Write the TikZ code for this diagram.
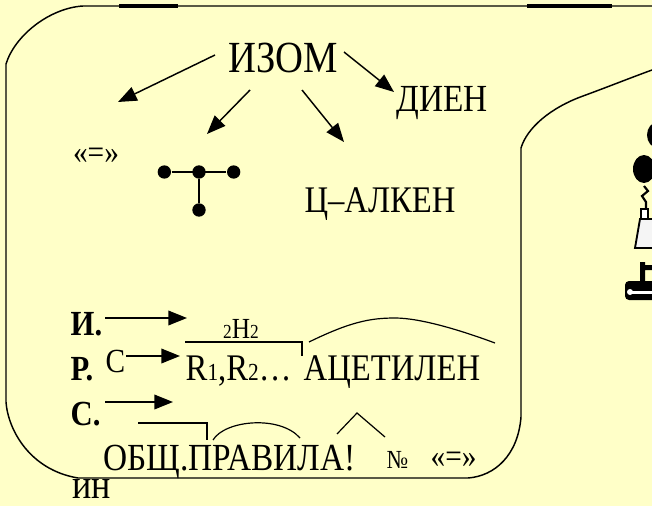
\documentclass[tikz,border=0pt]{standalone}
\usepackage{fontspec}
\setmainfont{Liberation Serif}
\usetikzlibrary{positioning,arrows.meta}

\definecolor{slide}{RGB}{255,255,200}
\newcommand{\fsz}[1]{\fontsize{#1}{#1}\selectfont}

\begin{document}
\begin{tikzpicture}[x=0.75pt,y=-0.75pt,line width=1.1pt,
    lbl/.style={inner sep=0pt,anchor=base west,yscale=1.15},
    dot/.style={circle,fill,inner sep=0pt,minimum size=10pt},
    arr/.style={-{Triangle[length=14pt,width=11pt]}},
    node distance=28.5pt and 26pt,on grid]
    \clip (0,0) rectangle (652,506);
    \fill[slide] (0,0) rectangle (652,506);

    % frame
    \draw (652,6) -- (83,6) .. controls (50,8) and (15,35) .. (6,64) -- (6,402)
        .. controls (8,430) and (30,470) .. (78,478) -- (468,478)
        .. controls (495,476) and (518,455) .. (521,417) -- (521,148)
        .. controls (527,128) and (550,108) .. (583,96)
        .. controls (605,88) and (630,78) .. (652,70);
    \draw[line width=2.4pt] (119,6) -- (178,6) (527,6) -- (612,6);

    % top part
    \node (izom) [lbl,anchor=base,font=\fsz{29}] at (283,73) {ИЗОМ};
    \node (dien) [lbl,anchor=base,font=\fsz{25}] at (442,112) {ДИЕН};
    \node (dbl) [lbl,anchor=base,font=\fsz{22}] at (96,163) {«=»};
    \node (calk) [lbl,anchor=base,font=\fsz{24.5}] at (380,212) {Ц–АЛКЕН};
    \coordinate (ta) at (118,102);
    \coordinate (tb) at (207,134);
    \coordinate (tc) at (344,142);
    \coordinate (td) at (394,92);
    \path[arr]
    ([shift={(-68,-18)}]izom.base) edge (ta)
    ([shift={(-33,17)}]izom.base) edge (tb)
    ([shift={(19,17)}]izom.base) edge (tc)
    ([shift={(61,-21)}]izom.base) edge (td);

    \node (c) [dot] at (199,172) {};
    \node (l) [dot,left=of c] {};
    \node (r) [dot,right=of c] {};
    \node (b) [dot,below=of c] {};
    \draw (l) -- (r) (c) -- (b);

    % lower part
    \node (i) [lbl,font=\fsz{23}\bfseries] at (70,335) {И.};
    \node (p) [lbl,font=\fsz{23}\bfseries] at (70,380) {Р.};
    \node (s) [lbl,font=\fsz{23}\bfseries] at (70,425) {С.};
    \node (cc) [lbl,font=\fsz{22}] at (105,372) {С};
    \coordinate (ti) at (187,318);
    \coordinate (tp) at (180,356);
    \coordinate (ts) at (173,402);
    \path[arr]
    ([shift={(35,-17)}]i.base west) edge (ti)
    ([shift={(0,-16)}]cc.base east) edge (tp)
    ([shift={(35,-23)}]s.base west) edge (ts);

    \node (h2) [lbl,anchor=base,font=\fsz{19}] at (241,338) {{\fsz{13}2}H{\fsz{13}2}};
    \node (rr) [lbl,font=\fsz{24.5}] at (185,380) {R{\fsz{16}1},R{\fsz{16}2}…};
    \node (acet) [lbl,font=\fsz{24.5}] at (303,380) {АЦЕТИЛЕН};
    \draw[line width=0.9pt] (185,342) -- (302,342) -- (302,356);
    \draw[line width=0.9pt] (309,342) .. controls (350,322) and (370,318) .. (395,318)
        .. controls (420,318) and (460,330) .. (495,343);

    \node (obsh) [lbl,font=\fsz{25}] at (103,470) {ОБЩ.ПРАВИЛА!};
    \node (no) [lbl,font=\fsz{17}] at (386,468) {№};
    \node (dbl2) [lbl,font=\fsz{22}] at (430,467) {«=»};
    \draw[line width=0.9pt] (138,423) -- (207,423) -- (207,440);
    \draw[line width=0.9pt] (213,440) .. controls (225,420) and (280,415) .. (300,438);
    \draw[line width=0.9pt] (337,434) -- (357,413) -- (385,437);
    \node (in) [lbl,font=\fsz{27}] at (72,498) {ин};

    % figure at the right edge
    \fill (658,135) ellipse (11 and 13);
    \fill (644,169) ellipse (11 and 14);
    \draw[line width=1.6pt] (644,186) -- (648,191) -- (642,196) -- (646,202) -- (646,209);
    \draw[fill=white] (641,209) rectangle (648,219);
    \draw[fill=white!92!gray,line width=1.4pt] (660,219) -- (640,219) -- (635,248) -- (660,248);
    \fill (640,262) rectangle (645,283) (645,265) rectangle (656,270);
    \fill[rounded corners=3pt] (625,281) rectangle (658,300);
    \fill[white] (631,291) rectangle (652,294);
    \fill[white] (630,292) circle (3);
\end{tikzpicture}
\end{document}
